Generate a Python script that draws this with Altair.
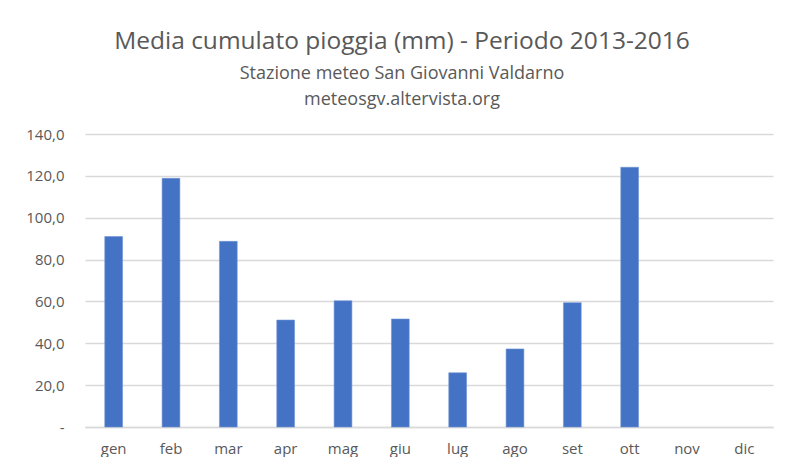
import altair as alt
import pandas as pd

mesi = ["gen", "feb", "mar", "apr", "mag", "giu", "lug", "ago", "set", "ott", "nov", "dic"]
pioggia = [91.0, 118.8, 88.7, 51.1, 60.3, 51.6, 25.9, 37.3, 59.4, 124.1, None, None]

df = pd.DataFrame({"mese": mesi, "mm": pioggia})

TXT = "#595959"
FONT = "Open Sans"

chart = alt.Chart(df).mark_bar(color="#4472C4", stroke="#6F93D3", strokeWidth=0.6).encode(
    x=alt.X("mese:N", sort=mesi,
            scale=alt.Scale(paddingInner=0.69, paddingOuter=0.345),
            axis=alt.Axis(title=None, labelAngle=0, ticks=False, domain=True,
                          domainColor="#D9D9D9", domainWidth=1.3,
                          labelPadding=14, labelFontSize=15, labelColor=TXT,
                          labelFont=FONT)),
    y=alt.Y("mm:Q", scale=alt.Scale(domain=[0, 140], nice=False),
            axis=alt.Axis(title=None, values=[0, 20, 40, 60, 80, 100, 120, 140],
                          ticks=False, domain=False, grid=True,
                          gridColor="#D9D9D9", gridWidth=1.3,
                          labelPadding=21, labelFontSize=15, labelColor=TXT,
                          labelFont=FONT,
                          labelExpr="datum.value == 0 ? '-\u00a0\u00a0\u00a0' : replace(format(datum.value, '.1f'), '.', ',')")),
).properties(
    width=688,
    height=293,
    autosize=alt.AutoSizeParams(type="none"),
    padding={"left": 77, "top": 126, "right": 5, "bottom": 30},
    title=alt.TitleParams(
        text="Media cumulato pioggia (mm) - Periodo 2013-2016",
        subtitle=["Stazione meteo San Giovanni Valdarno", "meteosgv.altervista.org"],
        anchor="middle", frame="group", dx=-27, offset=17,
        font=FONT, fontSize=24.5, fontWeight="normal", color=TXT,
        subtitleFont=FONT, subtitleFontSize=18, subtitleColor=TXT,
        subtitleLineHeight=26, subtitlePadding=11,
    ),
).configure_view(stroke=None)

chart.save("out.html", embed_options={"renderer": "svg", "actions": False})
